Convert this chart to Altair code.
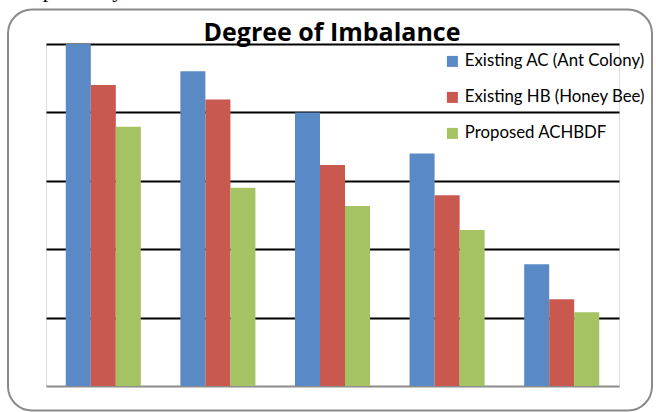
import altair as alt
import pandas as pd

categories = ["1", "2", "3", "4", "5"]
series = ["Existing AC (Ant Colony)", "Existing HB (Honey Bee)", "Proposed ACHBDF"]
ac_values = [5.0, 4.60, 4.0, 3.40, 1.78]
hb_values = [4.40, 4.19, 3.23, 2.79, 1.27]
pr_values = [3.79, 2.90, 2.63, 2.28, 1.08]
colors = ["#5A8AC6", "#C9584F", "#A5C362"]

rows = []
for i, c in enumerate(categories):
    for s, vals in zip(series, [ac_values, hb_values, pr_values]):
        rows.append({"group": c, "series": s, "value": vals[i]})
df = pd.DataFrame(rows)

W, H = 573, 342
PL, PT, PR, PB = 46, 44, 37, 26

bars = alt.Chart(df).mark_bar(opacity=1).encode(
    x=alt.X("group:N", sort=categories,
            scale=alt.Scale(paddingInner=0.345, paddingOuter=0.1725),
            axis=alt.Axis(labels=False, ticks=False, title=None, domain=True,
                          domainColor="#8C8C8C", domainWidth=2)),
    xOffset=alt.XOffset("series:N", sort=series, scale=alt.Scale(paddingInner=0, paddingOuter=0)),
    y=alt.Y("value:Q", scale=alt.Scale(domain=[0, 5], nice=False),
            axis=alt.Axis(values=[1, 2, 3, 4, 5], labels=False, ticks=False, title=None,
                          domain=False, grid=True, gridColor="#000000", gridWidth=2)),
    color=alt.Color("series:N", sort=series,
                    scale=alt.Scale(domain=series, range=colors),
                    legend=alt.Legend(orient="none", legendX=398, legendY=9, title=None,
                                      symbolType="square", symbolSize=121, symbolStrokeWidth=0,
                                      labelFont="Lato", labelFontSize=16.8, labelColor="#000000",
                                      rowPadding=18, labelOffset=4, labelLimit=300)),
)

one = alt.Data(values=[{"t": "Degree of Imbalance"}])

title = alt.Chart(one).mark_text(
    text="Degree of Imbalance", font="Open Sans", fontWeight="bold", fontSize=25,
    align="center", baseline="alphabetic", color="#000000"
).encode(x=alt.value(332 - PL), y=alt.value(40.5 - PT))

border = alt.Chart(one).mark_rect(
    fill=None, stroke="#8A8A8A", strokeWidth=2, cornerRadius=24
).encode(x=alt.value(8 - PL), x2=alt.value(652 - PL),
         y=alt.value(9.5 - PT), y2=alt.value(410.5 - PT))

above = alt.Chart(one).mark_text(
    text="respectively", font="Liberation Serif", fontSize=22,
    align="left", baseline="alphabetic", color="#000000"
).encode(x=alt.value(17 - PL), y=alt.value(-3 - PT))

chart = alt.layer(border, bars, title, above).properties(
    width=W, height=H,
    padding={"left": PL, "top": PT, "right": PR, "bottom": PB},
    autosize=alt.AutoSizeParams(type="none"),
).configure_view(stroke=None).configure(background="white")

chart.save("out.html", embed_options={"renderer": "svg", "actions": False})
